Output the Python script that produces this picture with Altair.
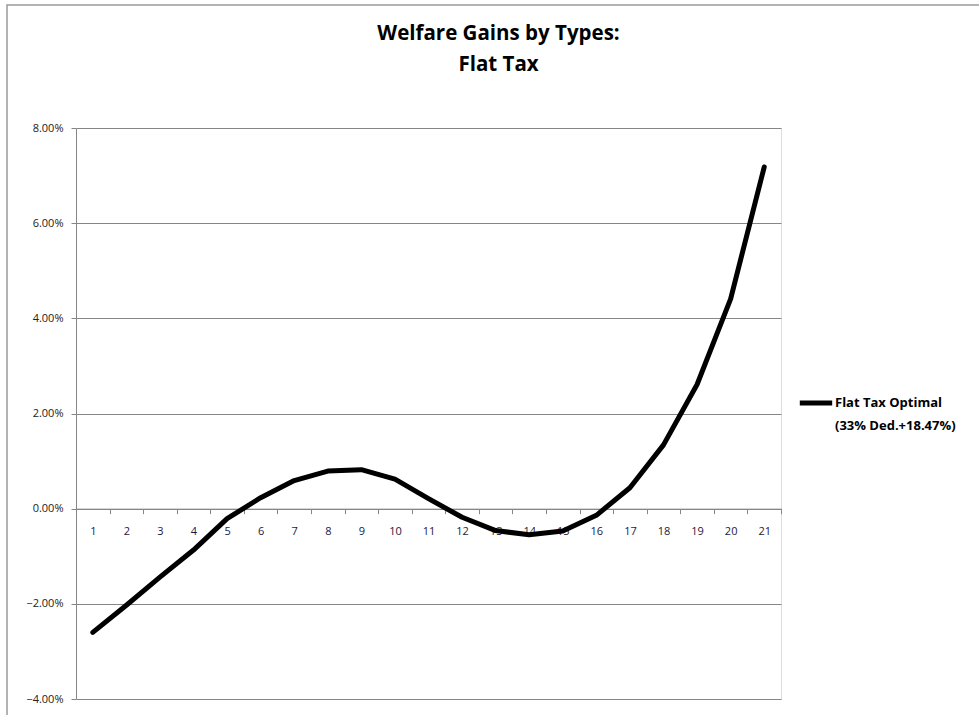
import json
import altair as alt
import pandas as pd

# ---- data ----
types = list(range(1, 22))
gains = [-2.60, -2.03, -1.44, -0.87, -0.21, 0.23, 0.59, 0.79, 0.82, 0.62,
         0.21, -0.18, -0.46, -0.55, -0.47, -0.14, 0.44, 1.34, 2.61, 4.41, 7.18]
series_lines = ["Flat Tax Optimal", "(33% Ded.+18.47%)"]
title_lines = ["Welfare Gains by Types:", "Flat Tax"]
y_ticks = [-0.04, -0.02, 0.0, 0.02, 0.04, 0.06, 0.08]
x_ticks = [t - 0.5 for t in types] + [types[-1] + 0.5]

df = pd.DataFrame({
    "type": types,
    "gain": [g / 100 for g in gains],
    "series": " ".join(series_lines),
})

W, H = 705, 571
FONT = "Open Sans"
GRID = "#868686"
FRAME_TOP = -123

x_axis = alt.Axis(
    values=x_ticks,
    labelExpr=f"datum.value < {types[-1]} ? format(datum.value + 0.5, 'd') : ''",
    labelOffset=W / len(types) / 2,
    labelFlush=False,
    labelOverlap=False,
    labelBound=False,
    grid=False,
    orient="bottom",
    offset=-H * 4 / 12,
    tickSize=5,
    tickColor=GRID,
    domainColor=GRID,
    labelPadding=12,
    labelFontSize=11,
    labelColor="#1a1a40",
    labelFont=FONT,
    title=None,
)

y_axis = alt.Axis(
    values=y_ticks,
    format=".2%",
    grid=True,
    gridColor=GRID,
    gridWidth=1,
    gridOpacity=1,
    tickSize=5,
    tickColor=GRID,
    domainColor=GRID,
    labelPadding=8,
    labelFontSize=11,
    labelColor="#222222",
    labelFont=FONT,
    title=None,
)

line = alt.Chart(df).mark_line(strokeWidth=5, strokeCap="round", strokeJoin="round").encode(
    x=alt.X("type:Q", scale=alt.Scale(domain=[0.5, 21.5], nice=False, zero=False), axis=x_axis),
    y=alt.Y("gain:Q", scale=alt.Scale(domain=[-0.04, 0.08], nice=False), axis=y_axis),
    color=alt.Color(
        "series:N",
        scale=alt.Scale(range=["black"]),
        legend=alt.Legend(
            title=None,
            orient="none",
            legendX=721,
            legendY=256,
            symbolType="stroke",
            symbolSize=1050,
            symbolStrokeWidth=5,
            labelExpr=json.dumps(series_lines),
            labelFont=FONT,
            labelFontWeight="bold",
            labelFontSize=13,
            labelColor="black",
            labelOffset=0,
            labelLimit=300,
            padding=0,
        ),
    ),
)

# chart-area frame (Excel style border)
frame = alt.Chart(pd.DataFrame({"frame": [0]})).mark_rect(
    fill=None, stroke="#9a9a9a", strokeWidth=1.5
).encode(
    x=alt.value(-69), y=alt.value(FRAME_TOP), x2=alt.value(W + 400), y2=alt.value(H + 200)
)

chart = alt.layer(frame, line).properties(
    width=W,
    height=H,
    title=alt.TitleParams(
        text=title_lines,
        font=FONT,
        fontSize=20.5,
        fontWeight="bold",
        color="black",
        anchor="middle",
        frame="group",
        dx=70,
        dy=-FRAME_TOP - 5,
        offset=47,
        lineHeight=31,
    ),
    autosize=alt.AutoSizeParams(type="none"),
    padding={"left": 76, "top": 128, "right": 198, "bottom": 16},
).configure_view(stroke=None).configure(
    background="white",
    style={"guide-label": {"lineHeight": 23}},
)

chart.save("out.html", embed_options={"renderer": "svg", "actions": False})
